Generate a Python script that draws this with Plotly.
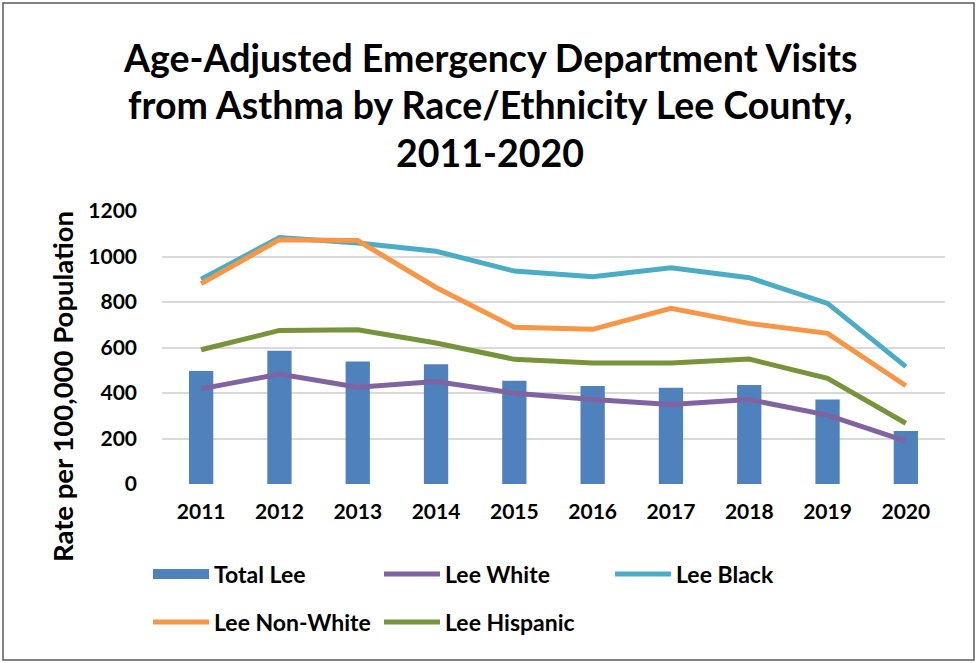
import plotly.graph_objects as go

years = ["2011", "2012", "2013", "2014", "2015", "2016", "2017", "2018", "2019", "2020"]
total_lee = [497, 586, 539, 526, 454, 431, 423, 435, 371, 233]
lee_white = [418, 483, 425, 450, 399, 371, 349, 371, 303, 188]
lee_black = [900, 1083, 1059, 1023, 936, 911, 951, 907, 794, 516]
lee_nonwhite = [881, 1074, 1070, 864, 689, 680, 772, 706, 662, 432]
lee_hispanic = [590, 675, 678, 620, 548, 532, 532, 549, 464, 267]

title_lines = ["Age-Adjusted Emergency Department Visits",
               "from Asthma by Race/Ethnicity Lee County,",
               "2011-2020"]
y_title = "Rate per 100,000 Population"

FONT = "Lato"
BAR_COLOR = "#4F81BD"
fig = go.Figure()
fig.add_trace(go.Bar(x=years, y=total_lee, name="Total Lee", marker_color=BAR_COLOR,
                     marker_line_width=0, width=0.31, showlegend=False))
# legend-only entry to show the wide rectangular swatch of the bar series
fig.add_trace(go.Scatter(x=[None], y=[None], name="Total Lee", mode="lines",
                         line=dict(color=BAR_COLOR, width=18), legend="legend"))
fig.add_trace(go.Scatter(x=years, y=lee_white, name="Lee White", mode="lines",
                         line=dict(color="#8064A2", width=5), legend="legend"))
fig.add_trace(go.Scatter(x=years, y=lee_black, name="Lee Black", mode="lines",
                         line=dict(color="#4BACC6", width=5), legend="legend"))
fig.add_trace(go.Scatter(x=years, y=lee_nonwhite, name="Lee Non-White", mode="lines",
                         line=dict(color="#F79646", width=5), legend="legend2"))
fig.add_trace(go.Scatter(x=years, y=lee_hispanic, name="Lee Hispanic", mode="lines",
                         line=dict(color="#77933C", width=5), legend="legend2"))

L, R, T, B = 162, 32, 211, 179
W, H = 977, 663
pw, ph = W - L - R, H - T - B

def px_x(x):
    return (x - L) / pw

def px_y(y):
    return (H - B - y) / ph

legend_common = dict(orientation="h", entrywidth=160, entrywidthmode="pixels",
                     font=dict(family=FONT, size=23, color="black", weight="bold"),
                     bgcolor="rgba(0,0,0,0)", xanchor="left", yanchor="middle",
                     itemwidth=56, traceorder="normal")

fig.update_layout(
    width=W, height=H,
    margin=dict(l=L, r=R, t=T, b=B),
    paper_bgcolor="white", plot_bgcolor="white",
    showlegend=True,
    legend=dict(x=px_x(148), y=px_y(574), **legend_common),
    legend2=dict(x=px_x(148), y=px_y(622), **legend_common),
    xaxis=dict(type="category", showgrid=False, showline=False, zeroline=False,
               tickfont=dict(family=FONT, size=21, color="black", weight="bold"),
               ticks="", ticklabelstandoff=13),
    yaxis=dict(range=[0, 1200], dtick=200, showgrid=True, gridcolor="#D9D9D9", gridwidth=2,
               zeroline=False, showline=False,
               tickfont=dict(family=FONT, size=21, color="black", weight="bold"),
               ticks="", ticklabelstandoff=24),
)

for line, ypix in zip(title_lines, [57, 104, 152]):
    fig.add_annotation(text=line, xref="paper", yref="paper", x=px_x(490), y=px_y(ypix),
                       showarrow=False, xanchor="center", yanchor="middle",
                       font=dict(family=FONT, size=37.5, color="black", weight="bold"))

fig.add_annotation(text=y_title, xref="paper", yref="paper", x=px_x(62), y=px_y(387),
                   showarrow=False, textangle=-90, xanchor="center", yanchor="middle",
                   font=dict(family=FONT, size=27.5, color="black", weight="bold"))

fig.add_shape(type="rect", xref="paper", yref="paper",
              x0=px_x(3), x1=px_x(974), y0=px_y(660), y1=px_y(3),
              line=dict(color="#595959", width=1.5), fillcolor="rgba(0,0,0,0)", layer="below")

fig.write_html("out.html", config={"displayModeBar": False},
               post_script="document.body.style.margin='0px';")
